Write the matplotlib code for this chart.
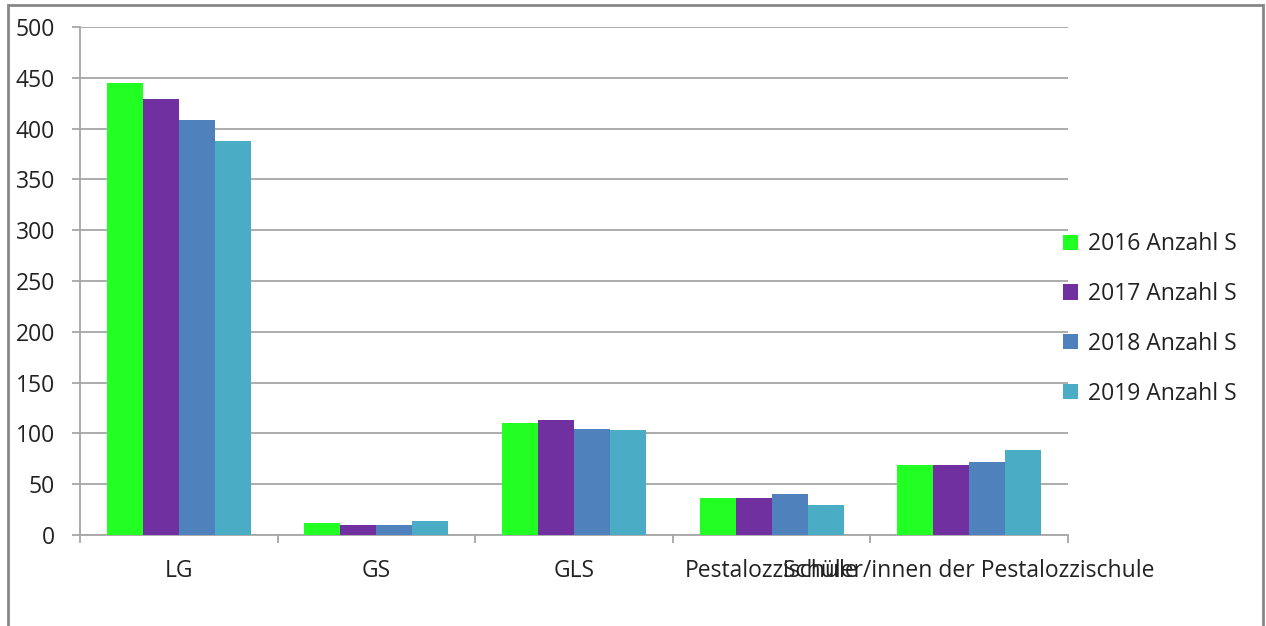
import numpy as np
import matplotlib
matplotlib.use("Agg")
import matplotlib.pyplot as plt
from matplotlib.patches import Rectangle

plt.rcParams['font.family'] = ['Open Sans', 'DejaVu Sans']

# data
categories = ["LG", "GS", "GLS", "Pestalozzischule", "Schüler/innen der Pestalozzischule"]
series_names = ["2016 Anzahl S", "2017 Anzahl S", "2018 Anzahl S", "2019 Anzahl S"]
values_2016 = [445, 12, 110, 36, 69]
values_2017 = [429, 10, 113, 36, 69]
values_2018 = [408, 10, 104, 40, 72]
values_2019 = [388, 14, 103, 30, 84]
yticks = list(range(0, 501, 50))

colors = ['#22FF22', '#7030A0', '#4F81BD', '#4BACC6']
all_values = [values_2016, values_2017, values_2018, values_2019]
fs = 16.5

fig = plt.figure(figsize=(12.66, 6.26), dpi=100)
ax = fig.add_axes([80/1266, 1-535/626, (1068-80)/1266, (535-27)/626])

x = np.arange(len(categories))
w = 0.182
for i, (vals, name, c) in enumerate(zip(all_values, series_names, colors)):
    ax.bar(x + (i - 1.5) * w, vals, width=w, color=c, label=name, zorder=3,
           edgecolor='none')

grid_c = '#A6A6A6'
ax.set_xlim(-0.5, len(categories) - 0.5)
ax.set_ylim(0, 500)
ax.set_yticks(yticks)
ax.yaxis.grid(True, color=grid_c, linewidth=1.3, zorder=0)
ax.set_axisbelow(True)
for s in ['top', 'right']:
    ax.spines[s].set_visible(False)
for s in ['left', 'bottom']:
    ax.spines[s].set_color(grid_c)
    ax.spines[s].set_linewidth(1.3)

ax.set_xticks(x)
ax.set_xticklabels(categories)
ax.set_xticks(np.arange(-0.5, len(categories)), minor=True)
ax.tick_params(axis='x', which='major', length=0, pad=17, labelsize=fs, labelcolor='#222222')
ax.tick_params(axis='x', which='minor', length=6, width=1.3, color=grid_c, direction='out')
ax.tick_params(axis='y', length=6, width=1.3, color=grid_c, pad=12, labelsize=fs, labelcolor='#222222')

handles, labels = ax.get_legend_handles_labels()
fig.legend(handles, labels, loc='center left', bbox_to_anchor=(1042/1266, 1-319/626),
           frameon=False, fontsize=fs, handlelength=0.65, handleheight=0.65,
           handletextpad=0.45, labelspacing=1.12, labelcolor='#222222')

# outer chart frame
fig.patches.append(Rectangle((8/1266, -0.1), (1263-8)/1266, 1.1 - 5/626,
                             transform=fig.transFigure, fill=False,
                             edgecolor='#878787', linewidth=2))

fig.savefig("out.png", dpi=100)
